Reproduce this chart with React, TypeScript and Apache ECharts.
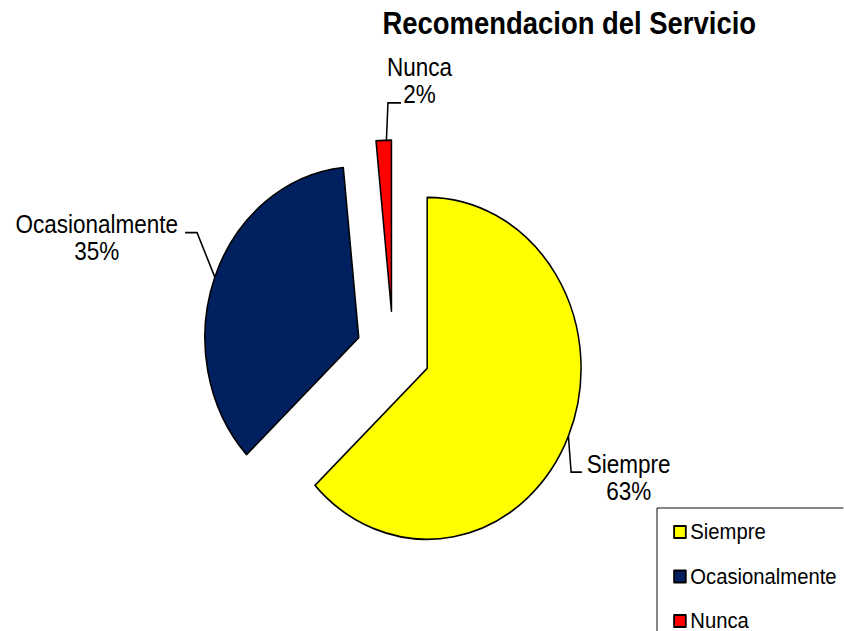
import React, { useEffect, useRef } from "react";
import * as echarts from "echarts";

const categories = ["Siempre", "Ocasionalmente", "Nunca"];
const values = [63, 35.4, 1.6];
const colors = ["#FFFF00", "#002060", "#FF0000"];
const titleText = "Recomendacion del Servicio";

const FONT = "'Liberation Sans', Arial, sans-serif";
const SQUEEZE = 0.9;

// pie layout (chart pixels before the horizontal squeeze)
const PIE_CENTER = [437, 352];
const PIE_RADIUS = 171;
const PIE_OFFSET = 41;

// label geometry relative to the arc mid-point of each exploded slice
const labelGeom = [
  { start: [0, 0], bend: [3, 36], tail: 12, text: [67, 41] },
  { start: [0, -1], bend: [-19.5, -44.1], tail: -13.3, text: [-131, -39.3] },
  { start: [3, 0], bend: [1.7, -37.3], tail: 14.5, text: [36.7, -60] },
];

function buildLabels() {
  const total = values.reduce((a, b) => a + b, 0);
  let cum = 0;
  const els: any[] = [];
  values.forEach((v, i) => {
    const midFrac = (cum + v / 2) / total;
    cum += v;
    const theta = midFrac * Math.PI * 2; // clockwise from 12 o'clock
    const dx = Math.sin(theta);
    const dy = -Math.cos(theta);
    const rr = PIE_RADIUS + PIE_OFFSET;
    const g = labelGeom[i];
    const p0 = [PIE_CENTER[0] + rr * dx + g.start[0], PIE_CENTER[1] + rr * dy + g.start[1]];
    const bend = [p0[0] + g.bend[0], p0[1] + g.bend[1]];
    const end = [bend[0] + g.tail, bend[1]];
    const pct = Math.round((v / total) * 100);
    els.push({
      type: "polyline",
      silent: true,
      shape: { points: [p0, bend, end] },
      style: { stroke: "#000", lineWidth: 1.7, fill: null },
      z: 10,
    });
    els.push({
      type: "text",
      silent: true,
      x: p0[0] + g.text[0],
      y: p0[1] + g.text[1],
      style: {
        text: `${categories[i]}\n${pct}%`,
        fontFamily: FONT,
        fontSize: 25,
        lineHeight: 27,
        fill: "#000",
        align: "center",
        verticalAlign: "middle",
      },
      z: 10,
    });
  });
  return els;
}

export default function App() {
  const ref = useRef<HTMLDivElement>(null);
  useEffect(() => {
    const chart = echarts.init(ref.current!, undefined, { renderer: "svg" });
    chart.setOption({
      animation: false,
      backgroundColor: "#ffffff",
      title: {
        text: titleText,
        left: 425,
        top: 8,
        padding: 0,
        textStyle: { fontFamily: FONT, fontSize: 30.5, fontWeight: "bold", color: "#000" },
      },
      legend: {
        orient: "vertical",
        left: 730,
        top: 508,
        height: 140,
        padding: [12, 20, 12, 18],
        borderColor: "#000",
        borderWidth: 1,
        itemWidth: 13,
        itemHeight: 12,
        itemGap: 20.5,
        icon: "rect",
        data: categories,
        textStyle: { fontFamily: FONT, fontSize: 22.5, lineHeight: 24, color: "#000" },
      },
      graphic: buildLabels(),
      series: [
        {
          type: "pie",
          center: PIE_CENTER,
          radius: PIE_RADIUS,
          startAngle: 90,
          clockwise: true,
          selectedMode: "multiple",
          selectedOffset: PIE_OFFSET,
          avoidLabelOverlap: false,
          itemStyle: { borderColor: "#000", borderWidth: 1.7 },
          emphasis: { disabled: true },
          label: { show: false },
          labelLine: { show: false },
          data: categories.map((name, i) => ({
            name,
            value: values[i],
            selected: true,
            itemStyle: { color: colors[i] },
            select: { itemStyle: { color: colors[i], borderColor: "#000", borderWidth: 1.7 } },
          })),
        },
      ],
    });
    return () => chart.dispose();
  }, []);
  return (
    <div style={{ position: "absolute", left: 0, top: 0, width: 844, height: 631, overflow: "hidden" }}>
      <div
        ref={ref}
        style={{
          width: 937,
          height: 700,
          transform: `scaleX(${SQUEEZE})`,
          transformOrigin: "0 0",
        }}
      />
    </div>
  );
}
